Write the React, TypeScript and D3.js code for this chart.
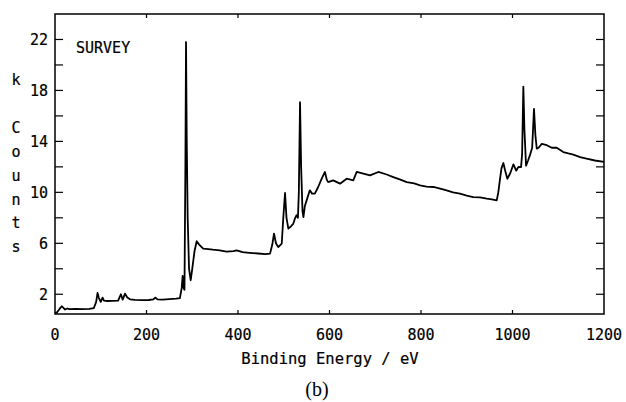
import React from 'react';
import * as d3 from 'd3';

// XPS survey spectrum
const energy = [
  0, 5, 10, 14.6, 18, 22, 27, 32, 45, 60, 75, 85, 90, 93, 96, 100, 104, 107, 115, 125,
  138, 144, 148, 153, 158, 164, 175, 190, 205, 215, 219, 224, 235, 250, 265, 273, 277, 279, 281, 283,
  285, 286.4, 288, 290, 293, 296.6, 300, 305, 309.7, 315, 324, 335, 345, 360, 375, 390, 397, 410, 425, 444,
  460, 470, 475, 478.7, 483, 488, 495.6, 499, 502.8, 506, 510, 515, 521, 525, 528, 531, 533, 535.6, 538, 541,
  543, 546, 550, 557, 562, 568, 575, 583, 590, 594, 597, 608, 623, 637.6, 652, 659.5, 674, 688.6, 706.8, 725,
  739.5, 755, 768.8, 785, 798, 812, 827, 842, 856, 870, 885, 900, 914, 929, 943.7, 955, 965.5, 969, 972.8, 976,
  980, 984, 988.8, 995, 1002, 1008, 1013, 1018.7, 1021, 1023.7, 1026, 1029.6, 1034, 1038, 1043, 1047, 1050, 1053, 1057, 1064,
  1075, 1085.7, 1096.7, 1111, 1122, 1133, 1147.7, 1162, 1180, 1200,
];
const kCounts = [
  0.5, 0.6, 0.85, 1.06, 0.95, 0.8, 0.88, 0.84, 0.85, 0.84, 0.86, 0.92, 1.4, 2.1, 1.7, 1.4, 1.74, 1.5, 1.47, 1.48,
  1.5, 2.0, 1.58, 2.05, 1.75, 1.6, 1.56, 1.54, 1.55, 1.6, 1.74, 1.6, 1.58, 1.62, 1.65, 1.7, 2.5, 3.44, 2.5, 2.35,
  12, 21.8, 14, 8, 4, 3.1, 4, 5.4, 6.16, 5.9, 5.58, 5.55, 5.5, 5.45, 5.35, 5.38, 5.45, 5.3, 5.25, 5.2,
  5.15, 5.19, 5.9, 6.76, 6.0, 5.7, 5.97, 8, 9.95, 8, 7.15, 7.3, 7.55, 8.0, 8.2, 8.0, 10, 17.08, 12, 8.5,
  8.06, 8.9, 9.37, 10.16, 9.9, 9.9, 10.4, 11.07, 11.6, 11.0, 10.8, 10.94, 10.68, 11.07, 10.94, 11.6, 11.47, 11.33, 11.6, 11.4,
  11.2, 11.0, 10.8, 10.7, 10.55, 10.45, 10.42, 10.3, 10.16, 10.0, 9.9, 9.75, 9.63, 9.6, 9.5, 9.45, 9.37, 10, 11.07, 11.9,
  12.3, 11.7, 11.07, 11.5, 12.2, 11.7, 12.0, 11.98, 13, 18.3, 15, 12.1, 12.5, 12.9, 13.5, 16.56, 14.5, 13.43, 13.5, 13.8,
  13.7, 13.5, 13.5, 13.16, 13.05, 12.96, 12.77, 12.64, 12.5, 12.4,
];

const xTicks = [0, 200, 400, 600, 800, 1000, 1200];
const yTicks = [2, 4, 6, 8, 10, 12, 14, 16, 18, 20, 22];
const yTickLabels = [2, 6, 10, 14, 18, 22];
const yTitleLetters = ['k', '', 'C', 'o', 'u', 'n', 't', 's'];

const W = 626;
const H = 402;
const left = 55;
const right = 604;
const top = 14;
const bottom = 314;
const mono = '"DejaVu Sans Mono", monospace';
// plotter-style text is a bit heavier than plain DejaVu
const ink = { fontFamily: mono, fontSize: 15, stroke: '#000', strokeWidth: 0.2 };

export default function App() {
  const x = d3.scaleLinear().domain([0, 1200]).range([left, right]);
  const y = d3.scaleLinear().domain([0.45, 24]).range([bottom, top]);

  const pts: [number, number][] = energy.map((e, i) => [e, kCounts[i]]);
  const line = d3.line<[number, number]>()
    .x(d => x(d[0]))
    .y(d => y(d[1]));

  return (
    <svg width={W} height={H} style={{ position: 'absolute', left: 0, top: 0, background: '#fff' }}>
      <rect x={left} y={top} width={right - left} height={bottom - top} fill="none" stroke="#000" strokeWidth={1.5} />

      {xTicks.slice(1, -1).map(t => (
        <g key={'xt' + t}>
          <line x1={x(t)} x2={x(t)} y1={top} y2={top + 4} stroke="#000" strokeWidth={1.2} />
          <line x1={x(t)} x2={x(t)} y1={bottom} y2={bottom - 4} stroke="#000" strokeWidth={1.2} />
        </g>
      ))}
      {xTicks.map(t => (
        <text key={'xl' + t} x={x(t)} y={340} textAnchor="middle" {...ink}>{t}</text>
      ))}

      {yTicks.map(t => (
        <g key={'yt' + t}>
          <line x1={left} x2={left + 8} y1={y(t)} y2={y(t)} stroke="#000" strokeWidth={1.2} />
          <line x1={right} x2={right - 8} y1={y(t)} y2={y(t)} stroke="#000" strokeWidth={1.2} />
        </g>
      ))}
      {yTickLabels.map(t => (
        <text key={'yl' + t} x={48} y={y(t) + 5.5} textAnchor="end" {...ink}>{t}</text>
      ))}

      {yTitleLetters.map((c, i) => (
        <text key={'yc' + i} x={16} y={85 + i * 23.9} textAnchor="middle" {...ink}>{c}</text>
      ))}

      <text x={76} y={52.5} {...ink}>SURVEY</text>

      <path d={line(pts) || ''} fill="none" stroke="#000" strokeWidth={1.8} strokeLinejoin="round" />

      <text x={330} y={363.5} textAnchor="middle" {...ink} fontSize={15.5}>Binding Energy / eV</text>
      <text x={317} y={396} textAnchor="middle" fontFamily='"Liberation Serif", "Times New Roman", serif' fontSize={20}>(b)</text>
    </svg>
  );
}
